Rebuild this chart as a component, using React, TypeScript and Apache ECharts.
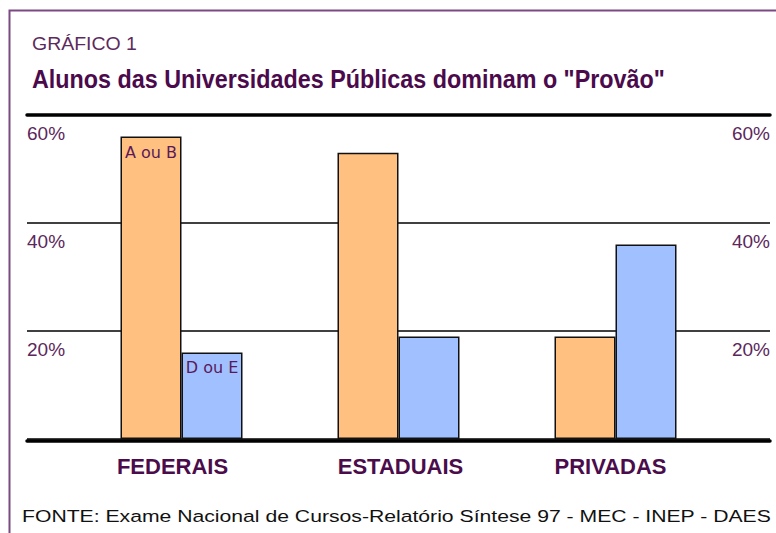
import React, { useEffect, useRef } from "react";
import * as echarts from "echarts";

const categories = ["FEDERAIS", "ESTADUAIS", "PRIVADAS"];
const aOuB = [56, 53, 19];
const dOuE = [16, 19, 36];
const yMin = 0;
const yMax = 60;
const yInterval = 20;

const headerLabel = "GRÁFICO 1";
const titleText = 'Alunos das Universidades Públicas dominam o "Provão"';
const footerText =
  "FONTE: Exame Nacional de Cursos-Relatório Síntese 97 - MEC - INEP - DAES";

function measure(text: string, font: string): number {
  const c = document.createElement("canvas");
  const ctx = c.getContext("2d");
  if (!ctx) return 1;
  ctx.font = font;
  return ctx.measureText(text).width || 1;
}

export default function App() {
  const ref = useRef<HTMLDivElement>(null);
  useEffect(() => {
    if (!ref.current) return;
    const chart = echarts.init(ref.current, null, { renderer: "svg" });
    const fam = '"Liberation Sans", Arial, sans-serif';
    const headerFont = `19px ${fam}`;
    const titleFont = `bold 25px ${fam}`;
    const footerFont = `17px ${fam}`;
    const headerScale = 105 / measure(headerLabel, headerFont);
    const titleScale = 633 / measure(titleText, titleFont);
    const footerScale = 750 / measure(footerText, footerFont);

    const pctLabel = (v: number) => (v === 0 ? "" : v + "%");
    const labelColor = "#5c275c";
    const catPadding = [
      [0, 18, 0, 0],
      [0, 0, 0, 4],
      [0, 10, 0, 0],
    ];

    chart.setOption({
      animation: false,
      backgroundColor: "#ffffff",
      grid: [
        { left: 27, right: 6, top: 115, bottom: 94 },
        { left: 73, right: 52, top: 115, bottom: 94 },
      ],
      xAxis: [
        {
          gridIndex: 0,
          type: "value",
          min: 0,
          max: 1,
          position: "bottom",
          offset: 2,
          axisLine: { show: true, onZero: false, lineStyle: { color: "#000", width: 3.5 } },
          axisTick: { show: false },
          axisLabel: { show: false },
          splitLine: { show: false },
        },
        {
          gridIndex: 0,
          type: "value",
          min: 0,
          max: 1,
          position: "top",
          axisLine: { show: true, onZero: false, lineStyle: { color: "#000", width: 3.5 } },
          axisTick: { show: false },
          axisLabel: { show: false },
          splitLine: { show: false },
        },
        {
          gridIndex: 1,
          type: "category",
          data: categories.map((c, i) => ({
            value: c,
            textStyle: { padding: catPadding[i] },
          })),
          axisLine: { show: false },
          axisTick: { show: false },
          axisLabel: {
            margin: 16,
            color: "#4b0c4b",
            fontSize: 22,
            fontWeight: "bold",
            fontFamily: fam,
          },
        },
      ],
      yAxis: [
        {
          gridIndex: 0,
          type: "value",
          position: "left",
          min: yMin,
          max: yMax,
          interval: yInterval,
          axisLine: { show: false },
          axisTick: { show: false },
          splitLine: { show: true, lineStyle: { color: "#000", width: 1.5 } },
          axisLabel: {
            inside: true,
            margin: 0,
            align: "left",
            verticalAlign: "top",
            padding: [9, 0, 0, 0],
            formatter: pctLabel,
            color: labelColor,
            fontSize: 19,
            fontFamily: fam,
          },
        },
        {
          gridIndex: 0,
          type: "value",
          position: "right",
          min: yMin,
          max: yMax,
          interval: yInterval,
          axisLine: { show: false },
          axisTick: { show: false },
          splitLine: { show: false },
          axisLabel: {
            inside: true,
            margin: 0,
            align: "right",
            verticalAlign: "top",
            padding: [9, 0, 0, 0],
            formatter: pctLabel,
            color: labelColor,
            fontSize: 19,
            fontFamily: fam,
          },
        },
        {
          gridIndex: 1,
          type: "value",
          min: yMin,
          max: yMax,
          interval: yInterval,
          show: false,
          splitLine: { show: false },
        },
      ],
      series: [
        {
          name: "A ou B",
          type: "bar",
          xAxisIndex: 2,
          yAxisIndex: 2,
          barWidth: 61,
          barGap: "0%",
          itemStyle: { color: "#ffc080", borderColor: "#111", borderWidth: 1.5 },
          data: aOuB.map((v, i) =>
            i === 0
              ? {
                  value: v,
                  label: {
                    show: true,
                    position: "insideTop",
                    distance: 8,
                    formatter: "A ou B",
                    color: "#5a1a5a",
                    fontSize: 16,
                    fontFamily: '"DejaVu Sans", sans-serif',
                  },
                }
              : v
          ),
        },
        {
          name: "D ou E",
          type: "bar",
          xAxisIndex: 2,
          yAxisIndex: 2,
          barWidth: 61,
          barGap: "0%",
          itemStyle: { color: "#a0c0ff", borderColor: "#111", borderWidth: 1.5 },
          data: dOuE.map((v, i) =>
            i === 0
              ? {
                  value: v,
                  label: {
                    show: true,
                    position: "insideTop",
                    distance: 7,
                    formatter: "D ou E",
                    color: "#5a1a5a",
                    fontSize: 16,
                    fontFamily: '"DejaVu Sans", sans-serif',
                  },
                }
              : v
          ),
        },
      ],
      graphic: [
        {
          type: "polyline",
          silent: true,
          shape: {
            points: [
              [9.5, 540],
              [9.5, 10.5],
              [790, 10.5],
            ],
          },
          style: { stroke: "#7b4a82", lineWidth: 2, fill: "none" },
        },
        {
          type: "text",
          x: 32,
          y: 44,
          scaleX: headerScale,
          style: {
            text: headerLabel,
            font: headerFont,
            fill: "#5c2a5c",
            textAlign: "left",
            textVerticalAlign: "middle",
          },
        },
        {
          type: "text",
          x: 32,
          y: 79,
          scaleX: titleScale,
          style: {
            text: titleText,
            font: titleFont,
            fill: "#4b0a4b",
            textAlign: "left",
            textVerticalAlign: "middle",
          },
        },
        {
          type: "text",
          x: 22,
          y: 516,
          scaleX: footerScale,
          style: {
            text: footerText,
            font: footerFont,
            fill: "#111",
            textAlign: "left",
            textVerticalAlign: "middle",
          },
        },
      ],
    });
    return () => chart.dispose();
  }, []);
  return (
    <div
      ref={ref}
      style={{ position: "absolute", left: 0, top: 0, width: 776, height: 533 }}
    />
  );
}
